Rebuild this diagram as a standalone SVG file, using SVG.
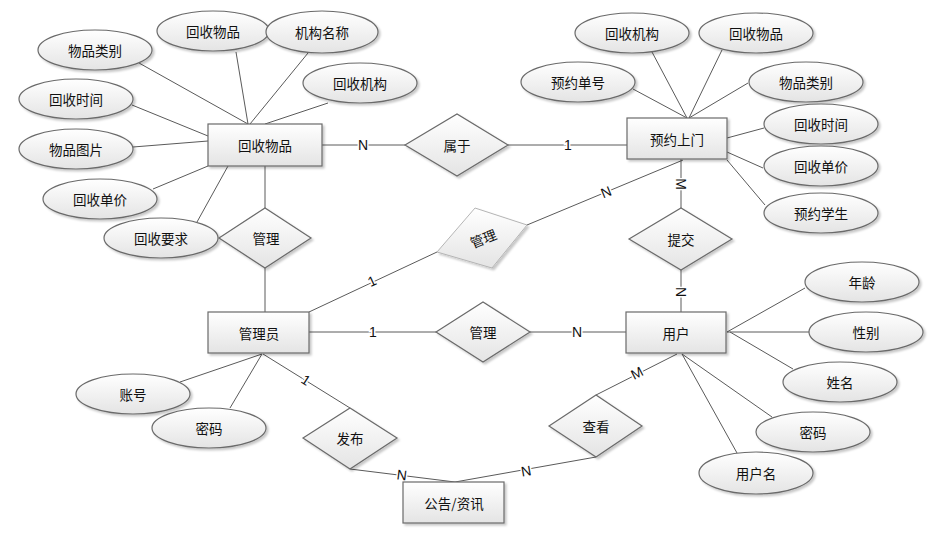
<svg xmlns="http://www.w3.org/2000/svg" width="941" height="539" viewBox="0 0 941 539">
<defs>
<linearGradient id="g" x1="0" y1="0" x2="0" y2="1">
<stop offset="0" stop-color="#ffffff"/>
<stop offset="1" stop-color="#e4e4e4"/>
</linearGradient>
<filter id="sh" x="-10%" y="-10%" width="130%" height="140%">
<feDropShadow dx="2" dy="2" stdDeviation="1" flood-color="#000" flood-opacity="0.22"/>
</filter>
<style>
.n{fill:url(#g);stroke:#6a6a6a;stroke-width:1.2;filter:url(#sh)}
.sk{fill:url(#g);stroke:#b5b5b5;stroke-width:1;filter:url(#sh)}
.t{font-family:"Noto Sans CJK SC","Liberation Sans",sans-serif;font-size:13.5px;fill:#111;text-anchor:middle;dominant-baseline:central}
.c line{stroke:#5a5a5a;stroke-width:1}
.l{font-family:"Liberation Sans",Arial,sans-serif;font-size:14px;fill:#111;text-anchor:middle;dominant-baseline:central;paint-order:stroke;stroke:#fff;stroke-width:3px}
</style>
</defs>
<rect width="941" height="539" fill="#fff"/>
<g id="connectors" class="c">
<line x1="139" y1="63" x2="248" y2="124"/>
<line x1="236" y1="52" x2="248" y2="124"/>
<line x1="308" y1="53" x2="250" y2="124"/>
<line x1="328" y1="103" x2="265" y2="124"/>
<line x1="132" y1="105" x2="208" y2="136"/>
<line x1="133" y1="147" x2="208" y2="141"/>
<line x1="153" y1="189" x2="208" y2="166"/>
<line x1="197" y1="222" x2="228" y2="166"/>
<line x1="633" y1="89" x2="687" y2="118"/>
<line x1="652" y1="52" x2="687" y2="118"/>
<line x1="722" y1="50" x2="689" y2="118"/>
<line x1="748" y1="83" x2="689" y2="118"/>
<line x1="764" y1="128" x2="727" y2="138"/>
<line x1="763" y1="168" x2="727" y2="152"/>
<line x1="765" y1="205" x2="727" y2="160"/>
<line x1="180" y1="382" x2="262" y2="354"/>
<line x1="230" y1="408" x2="262" y2="354"/>
<line x1="805" y1="288" x2="727" y2="332"/>
<line x1="809" y1="332" x2="727" y2="332"/>
<line x1="793" y1="369" x2="730" y2="332"/>
<line x1="772" y1="417" x2="682" y2="354"/>
<line x1="737" y1="453" x2="682" y2="354"/>
<line x1="265" y1="166" x2="265" y2="208"/>
<line x1="265" y1="268" x2="265" y2="312"/>
<line x1="322" y1="145" x2="405" y2="145"/>
<line x1="508" y1="145" x2="627" y2="145"/>
<line x1="681" y1="159" x2="681" y2="208"/>
<line x1="681" y1="270" x2="681" y2="312"/>
<line x1="683" y1="160" x2="527" y2="225"/>
<line x1="437" y1="252" x2="309" y2="312"/>
<line x1="309" y1="332" x2="436" y2="332"/>
<line x1="530" y1="332" x2="626" y2="332"/>
<line x1="263" y1="354" x2="350" y2="408"/>
<line x1="350" y1="469" x2="455" y2="482"/>
<line x1="677" y1="354" x2="596" y2="395"/>
<line x1="596" y1="457" x2="455" y2="482"/>
<text class="l" x="363" y="145">N</text>
<text class="l" x="568" y="145">1</text>
<text class="l" transform="translate(681,184) rotate(90)">M</text>
<text class="l" transform="translate(681,292) rotate(90)">N</text>
<text class="l" transform="translate(606,192) rotate(-22)">N</text>
<text class="l" transform="translate(372,281) rotate(-25)">1</text>
<text class="l" x="373" y="332">1</text>
<text class="l" x="577" y="332">N</text>
<text class="l" transform="translate(306,380) rotate(33)">1</text>
<text class="l" transform="translate(402,475) rotate(7)">N</text>
<text class="l" transform="translate(526,471) rotate(-10)">N</text>
<text class="l" transform="translate(637,373) rotate(-27)">M</text>
</g>
<g id="a_wplb"><ellipse class="n" cx="95" cy="50" rx="57" ry="20"/><text class="t" x="95" y="50">物品类别</text></g>
<g id="a_hswp"><ellipse class="n" cx="213" cy="31" rx="56" ry="20"/><text class="t" x="213" y="31">回收物品</text></g>
<g id="a_jgmc"><ellipse class="n" cx="322" cy="32" rx="56" ry="21"/><text class="t" x="322" y="32">机构名称</text></g>
<g id="a_hsjg"><ellipse class="n" cx="360" cy="83" rx="57" ry="20"/><text class="t" x="360" y="83">回收机构</text></g>
<g id="a_hssj"><ellipse class="n" cx="76" cy="99" rx="57" ry="20"/><text class="t" x="76" y="99">回收时间</text></g>
<g id="a_wptp"><ellipse class="n" cx="76" cy="149" rx="57" ry="20"/><text class="t" x="76" y="149">物品图片</text></g>
<g id="a_hsdj"><ellipse class="n" cx="100" cy="199" rx="57" ry="20"/><text class="t" x="100" y="199">回收单价</text></g>
<g id="a_hsyq"><ellipse class="n" cx="161" cy="238" rx="57" ry="20"/><text class="t" x="161" y="238">回收要求</text></g>
<g id="b_hsjg"><ellipse class="n" cx="632" cy="33" rx="57" ry="20"/><text class="t" x="632" y="33">回收机构</text></g>
<g id="b_hswp"><ellipse class="n" cx="756" cy="33" rx="57" ry="20"/><text class="t" x="756" y="33">回收物品</text></g>
<g id="b_yydh"><ellipse class="n" cx="578" cy="82" rx="57" ry="20"/><text class="t" x="578" y="82">预约单号</text></g>
<g id="b_wplb"><ellipse class="n" cx="806" cy="82" rx="57" ry="20"/><text class="t" x="806" y="82">物品类别</text></g>
<g id="b_hssj"><ellipse class="n" cx="821" cy="124" rx="57" ry="20"/><text class="t" x="821" y="124">回收时间</text></g>
<g id="b_hsdj"><ellipse class="n" cx="821" cy="166" rx="57" ry="20"/><text class="t" x="821" y="166">回收单价</text></g>
<g id="b_yyxs"><ellipse class="n" cx="821" cy="213" rx="57" ry="20"/><text class="t" x="821" y="213">预约学生</text></g>
<g id="c_zh"><ellipse class="n" cx="133" cy="394" rx="57" ry="20"/><text class="t" x="133" y="394">账号</text></g>
<g id="c_mm"><ellipse class="n" cx="209" cy="428" rx="57" ry="20"/><text class="t" x="209" y="428">密码</text></g>
<g id="d_nl"><ellipse class="n" cx="862" cy="282" rx="57" ry="20"/><text class="t" x="862" y="282">年龄</text></g>
<g id="d_xb"><ellipse class="n" cx="866" cy="332" rx="57" ry="20"/><text class="t" x="866" y="332">性别</text></g>
<g id="d_xm"><ellipse class="n" cx="840" cy="382" rx="57" ry="20"/><text class="t" x="840" y="382">姓名</text></g>
<g id="d_mm"><ellipse class="n" cx="813" cy="432" rx="57" ry="20"/><text class="t" x="813" y="432">密码</text></g>
<g id="d_yhm"><ellipse class="n" cx="756" cy="473" rx="57" ry="21"/><text class="t" x="756" y="473">用户名</text></g>
<g id="e_hswp"><rect class="n" x="208" y="124" width="114" height="42"/><text class="t" x="265" y="145">回收物品</text></g>
<g id="e_yysm"><rect class="n" x="627" y="118" width="100" height="41"/><text class="t" x="677" y="139">预约上门</text></g>
<g id="e_gly"><rect class="n" x="208" y="312" width="101" height="41"/><text class="t" x="259" y="333">管理员</text></g>
<g id="e_yh"><rect class="n" x="626" y="312" width="100" height="41"/><text class="t" x="676" y="333">用户</text></g>
<g id="e_ggzx"><rect class="n" x="403" y="482" width="101" height="41"/><text class="t" x="454" y="503">公告/资讯</text></g>
<g id="r_gl1"><polygon class="n" points="219,238 265,208 311,238 265,268"/><text class="t" x="266" y="238">管理</text></g>
<g id="r_sy"><polygon class="n" points="405,145 457,114 508,145 457,176"/><text class="t" x="457" y="145">属于</text></g>
<g id="r_tj"><polygon class="n" points="629,239 681,208 732,239 681,270"/><text class="t" x="681" y="239">提交</text></g>
<g id="r_gl2"><polygon class="sk" points="475,208 527,225 492,268 437,252"/><text class="t" transform="translate(483,238) rotate(-22)">管理</text></g>
<g id="r_gl3"><polygon class="n" points="436,332 483,302 530,332 483,362"/><text class="t" x="483" y="332">管理</text></g>
<g id="r_fb"><polygon class="n" points="303,438 350,408 397,438 350,469"/><text class="t" x="350" y="438">发布</text></g>
<g id="r_ck"><polygon class="n" points="549,426 596,395 642,426 596,457"/><text class="t" x="596" y="426">查看</text></g>
</svg>
